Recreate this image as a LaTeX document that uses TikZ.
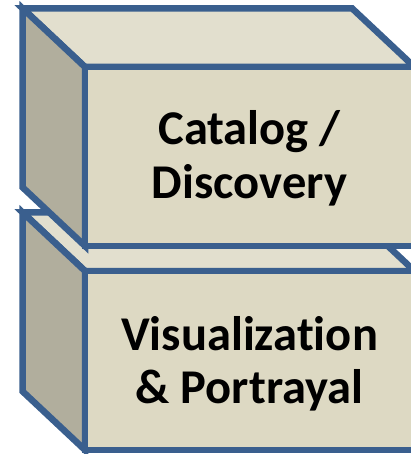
\documentclass[tikz,border=0pt]{standalone}
\usepackage{fontspec}
\setmainfont[Ligatures=NoCommon]{Carlito}
\definecolor{edgeblue}{HTML}{3A5F8E}
\definecolor{frontface}{HTML}{DDD9C3}
\definecolor{topface}{HTML}{E2DFCE}
\definecolor{sideface}{HTML}{B1AE9D}
\tikzset{
  facestroke/.style={draw=edgeblue,line width=6.5pt,line join=miter},
  boxlabel/.style={font=\fontsize{48.5}{53}\selectfont\bfseries,align=center,inner sep=0pt},
  cube/.pic={
    \path[facestroke,fill=topface] (0,0) -- (-62.5,58.7) -- (267,58.7) -- (329.5,0) -- cycle;
    \path[facestroke,fill=sideface] (0,0) -- (-62.5,58.7) -- (-62.5,-120.3) -- (0,-179) -- cycle;
    \path[facestroke,fill=frontface] (0,0) rectangle (329.5,-179);
  }
}
\begin{document}
\begin{tikzpicture}[x=1pt,y=1pt]
\useasboundingbox (0,0) rectangle (411,-454);
\pic (lower) at (85,-271) {cube};
\pic (upper) at (85,-67) {cube};
\node[boxlabel,anchor=base] (catalog) at (249.5,-198) {Catalog /\\Discovery};
\node[boxlabel,anchor=base] (visual) at (249.5,-403) {Visualization\\\& Portrayal};
\end{tikzpicture}
\end{document}
